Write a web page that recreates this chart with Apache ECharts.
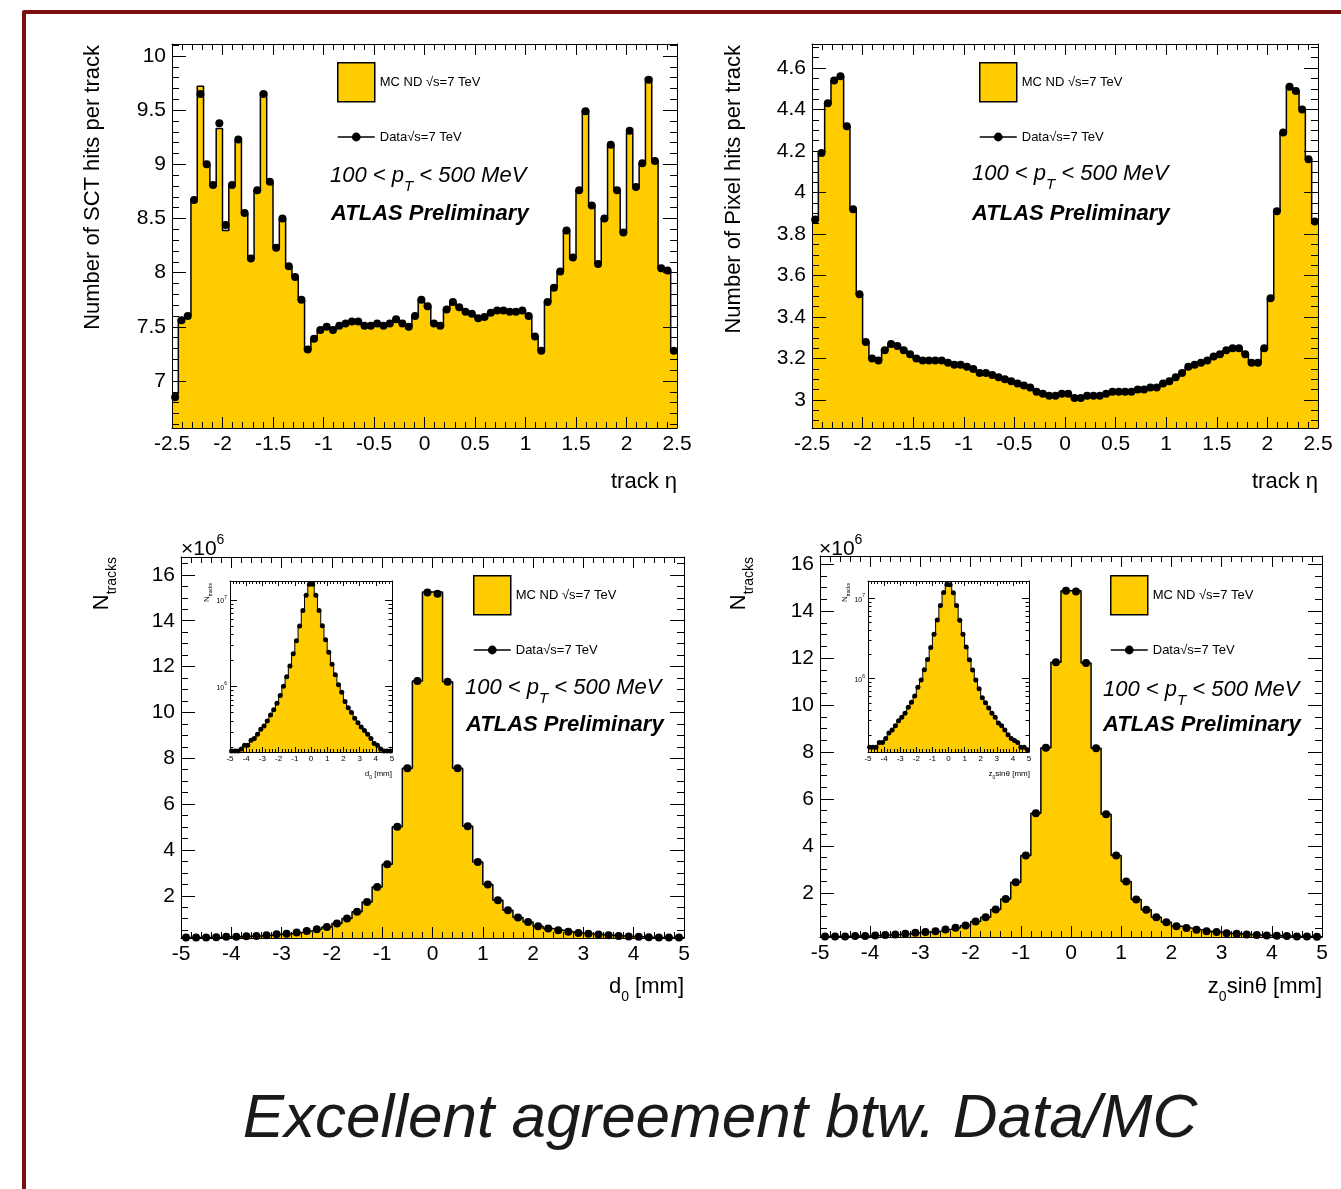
<!DOCTYPE html>
<html><head><meta charset="utf-8">
<script src="https://cdn.jsdelivr.net/npm/echarts@6/dist/echarts.min.js"></script>
<style>html,body{margin:0;padding:0;background:#fff}#c{width:1341px;height:1189px}</style>
</head><body><div id="c"></div>
<script>
// ---------------- data ----------------
const MC = 'MC ND \u221As=7 TeV';
const DATA = 'Data\u221As=7 TeV';

const etaRange = [-2.5, 2.5];   // 80 bins
const ipRange = [-5, 5];        // 50 bins

const sctData = [6.85,7.56,7.60,8.67,9.65,9.00,8.81,9.38,8.44,8.81,9.23,8.55,8.13,8.76,9.65,8.84,8.23,8.50,8.06,7.96,
  7.75,7.29,7.39,7.47,7.50,7.47,7.51,7.53,7.55,7.55,7.51,7.51,7.53,7.51,7.53,7.57,7.53,7.50,7.60,7.75,
  7.69,7.53,7.51,7.66,7.73,7.68,7.64,7.62,7.58,7.59,7.63,7.65,7.65,7.64,7.64,7.65,7.60,7.41,7.28,7.73,
  7.86,8.01,8.39,8.14,8.76,9.49,8.62,8.08,8.50,9.18,8.76,8.37,9.31,8.79,9.01,9.78,9.03,8.04,8.02,7.28];
const sctMC = [6.88,7.57,7.61,8.68,9.72,9.00,8.81,9.33,8.39,8.81,9.22,8.55,8.13,8.76,9.66,8.84,8.23,8.50,8.06,7.96,
  7.75,7.29,7.39,7.47,7.50,7.47,7.51,7.53,7.55,7.55,7.51,7.51,7.53,7.51,7.53,7.57,7.53,7.50,7.60,7.75,
  7.69,7.53,7.51,7.66,7.73,7.68,7.64,7.62,7.58,7.59,7.63,7.65,7.65,7.64,7.64,7.65,7.60,7.41,7.28,7.73,
  7.86,8.01,8.39,8.14,8.76,9.50,8.62,8.08,8.50,9.18,8.76,8.37,9.29,8.79,9.01,9.80,9.03,8.04,8.02,7.28];

const pixData = [3.87,4.19,4.43,4.54,4.56,4.32,3.92,3.51,3.28,3.20,3.19,3.24,3.27,3.26,3.24,3.22,3.20,3.19,3.19,3.19,
  3.19,3.18,3.17,3.17,3.16,3.15,3.13,3.13,3.12,3.11,3.10,3.09,3.08,3.07,3.06,3.04,3.03,3.02,3.02,3.03,
  3.03,3.01,3.01,3.02,3.02,3.02,3.03,3.04,3.04,3.04,3.04,3.05,3.05,3.06,3.06,3.08,3.09,3.11,3.13,3.16,
  3.17,3.18,3.19,3.21,3.22,3.24,3.25,3.25,3.22,3.18,3.18,3.25,3.49,3.91,4.29,4.51,4.49,4.40,4.16,3.86];
const pixMC = [3.87,4.19,4.43,4.54,4.56,4.32,3.92,3.51,3.28,3.20,3.19,3.24,3.27,3.26,3.24,3.22,3.20,3.19,3.19,3.19,
  3.19,3.18,3.17,3.17,3.16,3.15,3.13,3.13,3.12,3.11,3.10,3.09,3.08,3.07,3.06,3.04,3.03,3.02,3.02,3.03,
  3.03,3.01,3.01,3.02,3.02,3.02,3.03,3.04,3.04,3.04,3.04,3.05,3.05,3.06,3.06,3.08,3.09,3.11,3.13,3.16,
  3.17,3.18,3.19,3.21,3.22,3.24,3.25,3.25,3.22,3.18,3.18,3.25,3.49,3.91,4.29,4.51,4.49,4.40,4.16,3.86];

// tracks, in units of 10^6
const d0Data = [0.18,0.18,0.18,0.19,0.21,0.21,0.24,0.25,0.28,0.32,0.35,0.40,0.47,0.54,0.64,0.79,1.01,1.30,1.73,2.39,3.38,5.01,7.56,11.37,15.23,
  15.18,11.34,7.57,5.04,3.47,2.49,1.81,1.37,1.05,0.86,0.67,0.57,0.50,0.43,0.38,0.34,0.31,0.28,0.25,0.22,0.21,0.19,0.18,0.18,0.18];
const d0MC = [0.18,0.18,0.18,0.19,0.21,0.21,0.24,0.25,0.28,0.32,0.35,0.40,0.47,0.54,0.64,0.79,1.01,1.30,1.73,2.39,3.38,5.01,7.56,11.37,15.25,
  15.25,11.34,7.57,5.04,3.47,2.49,1.81,1.37,1.05,0.86,0.67,0.57,0.50,0.43,0.38,0.34,0.31,0.28,0.25,0.22,0.21,0.19,0.18,0.18,0.18];
const z0Data = [0.14,0.14,0.14,0.16,0.16,0.18,0.21,0.23,0.26,0.30,0.33,0.37,0.44,0.51,0.61,0.78,0.96,1.29,1.74,2.45,3.59,5.39,8.18,11.82,14.87,
  14.84,11.79,8.16,5.35,3.59,2.48,1.72,1.28,0.96,0.75,0.58,0.50,0.43,0.37,0.33,0.28,0.26,0.23,0.20,0.18,0.17,0.16,0.14,0.14,0.13];
const z0MC = [0.14,0.14,0.14,0.16,0.16,0.18,0.21,0.23,0.26,0.30,0.33,0.37,0.44,0.51,0.61,0.78,0.96,1.29,1.74,2.45,3.59,5.39,8.18,11.82,14.87,
  14.87,11.79,8.16,5.35,3.59,2.48,1.72,1.28,0.96,0.75,0.58,0.50,0.43,0.37,0.33,0.28,0.26,0.23,0.20,0.18,0.17,0.16,0.14,0.14,0.13];

// tick labels
const etaTicks = [-2.5,-2,-1.5,-1,-0.5,0,0.5,1,1.5,2,2.5];
const ipTicks = [-5,-4,-3,-2,-1,0,1,2,3,4,5];
const sctTicks = [7,7.5,8,8.5,9,9.5,10];
const pixTicks = [3,3.2,3.4,3.6,3.8,4,4.2,4.4,4.6];
const nTicks = [2,4,6,8,10,12,14,16];
const logTicks = [1e6,1e7];

// ---------------- helpers ----------------
const FONT = '"Liberation Sans", Arial, Helvetica, sans-serif';
function steps(a, b, s) {
  const out = [];
  const k0 = Math.ceil(a / s - 1e-9), k1 = Math.floor(b / s + 1e-9);
  for (let k = k0; k <= k1; k++) out.push(+(k * s).toFixed(6));
  return out;
}
function logMinors(a, b) {
  const out = [];
  for (let e = Math.floor(Math.log10(a)); e <= Math.ceil(Math.log10(b)); e++)
    for (let m = 1; m <= 9; m++) { const v = m * Math.pow(10, e); if (v >= a && v <= b) out.push(v); }
  return out;
}
function histLine(range, vals, scale) {
  const n = vals.length, w = (range[1] - range[0]) / n, k = scale || 1;
  const pts = vals.map((v, i) => [range[0] + i * w, v * k]);
  pts.push([range[1], vals[n - 1] * k]);
  return pts;
}
function binCenters(range, vals, scale) {
  const n = vals.length, w = (range[1] - range[0]) / n, k = scale || 1;
  return vals.map((v, i) => [range[0] + (i + 0.5) * w, v * k]);
}

const grids = [], xAxes = [], yAxes = [], series = [], legends = [], graphics = [];

function makeAxis(g, pos, s, major, labels) {
  return {
    gridIndex: g, type: s.type || 'value', position: pos, min: s.min, max: s.max, z: 10,
    axisLine: { show: major, onZero: false, lineStyle: { color: '#000', width: 1 } },
    axisTick: { show: true, inside: true, length: major ? s.majLen : s.minLen,
      customValues: major ? s.major : s.minor, lineStyle: { color: '#000', width: 1 } },
    axisLabel: labels ? Object.assign({ show: true, customValues: s.major, color: '#000', fontFamily: FONT }, s.label)
                      : { show: false },
    splitLine: { show: false }, minorTick: { show: false }, axisPointer: { show: false }
  };
}
function addFrame(g, sx, sy) {
  const xi = xAxes.length, yi = yAxes.length;
  xAxes.push(makeAxis(g, 'bottom', sx, true, true), makeAxis(g, 'bottom', sx, false, false),
             makeAxis(g, 'top', sx, true, false), makeAxis(g, 'top', sx, false, false));
  yAxes.push(makeAxis(g, 'left', sy, true, true), makeAxis(g, 'left', sy, false, false),
             makeAxis(g, 'right', sy, true, false), makeAxis(g, 'right', sy, false, false));
  return { xi, yi };
}
function addHist(ix, range, mc, data, scale, lw, sym) {
  series.push({ type: 'line', name: MC, xAxisIndex: ix.xi, yAxisIndex: ix.yi, data: histLine(range, mc, scale),
    step: 'end', symbol: 'none', silent: true, z: 2,
    lineStyle: { color: '#000', width: lw }, itemStyle: { color: '#ffcc00' },
    areaStyle: { color: '#ffcc00', opacity: 1, origin: 'start' } });
  series.push({ type: 'line', name: DATA, xAxisIndex: ix.xi, yAxisIndex: ix.yi, data: binCenters(range, data, scale),
    symbol: 'circle', symbolSize: sym, showSymbol: true, silent: true, z: 3,
    lineStyle: { opacity: 0, width: 1 }, itemStyle: { color: '#000' } });
}
function addLegend(left, top) {
  legends.push({ left, top, padding: 0, orient: 'vertical', selectedMode: false,
    itemWidth: 37, itemHeight: 39, data: [{ name: MC, icon: 'rect' }],
    itemStyle: { color: '#ffcc00', borderColor: '#000', borderWidth: 1.5, opacity: 1 },
    textStyle: { fontSize: 13, fontFamily: FONT, color: '#000' } });
  legends.push({ left, top: top + 68.5, padding: 0, orient: 'vertical', selectedMode: false,
    itemWidth: 37, itemHeight: 11, data: [{ name: DATA }],
    itemStyle: { color: '#000', opacity: 1, borderWidth: 0 },
    lineStyle: { color: '#000', width: 1.5, opacity: 1 },
    textStyle: { fontSize: 13, fontFamily: FONT, color: '#000' } });
}
function text(x, y, str, style, rot) {
  const st = Object.assign({ text: str, fontFamily: FONT, fill: '#000' }, style);
  if (st.align) st.textAlign = st.align;
  if (st.verticalAlign) st.textVerticalAlign = st.verticalAlign;
  graphics.push({ type: 'text', x, y, rotation: rot || 0, z: 20, silent: true, style: st });
}
function ptText(left, top) {
  text(left, top, '{a|100 < p}{s|T}{a| < 500 MeV}', { align: 'left', verticalAlign: 'top',
    rich: { a: { fontSize: 22, fontStyle: 'italic', fontFamily: FONT, lineHeight: 24, verticalAlign: 'top' },
            s: { fontSize: 15, fontStyle: 'italic', fontFamily: FONT, lineHeight: 15, padding: [14, 0, 0, 0], verticalAlign: 'top' } } });
}
function atlas(left, cy) {
  text(left, cy, 'ATLAS Preliminary', { fontSize: 22, fontStyle: 'italic', fontWeight: 'bold', align: 'left', verticalAlign: 'middle' });
}
function subText(right, top, a, s, b, big, small, rot) {
  text(right, top, '{a|' + a + '}{s|' + s + '}{a|' + b + '}', { align: 'right', verticalAlign: 'top',
    rich: { a: { fontSize: big, fontFamily: FONT, lineHeight: big + 2, verticalAlign: 'top' },
            s: { fontSize: small, fontFamily: FONT, lineHeight: small, padding: [Math.round(big * 0.62), 0, 0, 0], verticalAlign: 'top' } } }, rot);
}
function supText(left, top, a, s, big, small) {
  text(left, top, '{a|' + a + '}{s|' + s + '}', { align: 'left', verticalAlign: 'top',
    rich: { a: { fontSize: big, fontFamily: FONT, lineHeight: big, padding: [Math.round(big * 0.3), 0, 0, 0], verticalAlign: 'top' },
            s: { fontSize: small, fontFamily: FONT, lineHeight: small, verticalAlign: 'top' } } });
}

const mainLabel = { fontSize: 21, margin: 6 };
const insetLabel = { fontSize: 8, margin: 3 };

// ---------- panel 1 : SCT hits ----------
grids.push({ left: 172, top: 44, width: 505, height: 384, outerBoundsMode: 'none' });
let ix = addFrame(0,
  { min: etaRange[0], max: etaRange[1], major: etaTicks, minor: steps(-2.5, 2.5, 0.1), majLen: 11, minLen: 6, label: mainLabel },
  { min: 6.566, max: 10.111, major: sctTicks, minor: steps(6.566, 10.111, 0.1), majLen: 14, minLen: 7, label: mainLabel });
addHist(ix, etaRange, sctMC, sctData, 1, 1.5, 8);
addLegend(337, 62);
ptText(330, 165); atlas(331, 214);
text(677, 482, 'track \u03B7', { fontSize: 22, align: 'right', verticalAlign: 'middle' });
text(93, 45, 'Number of SCT hits per track', { fontSize: 22, align: 'right', verticalAlign: 'middle' }, Math.PI / 2);

// ---------- panel 2 : Pixel hits ----------
grids.push({ left: 812, top: 44, width: 506, height: 384, outerBoundsMode: 'none' });
ix = addFrame(1,
  { min: etaRange[0], max: etaRange[1], major: etaTicks, minor: steps(-2.5, 2.5, 0.1), majLen: 11, minLen: 6, label: mainLabel },
  { min: 2.865, max: 4.716, major: pixTicks, minor: steps(2.865, 4.716, 0.05), majLen: 14, minLen: 7, label: mainLabel });
addHist(ix, etaRange, pixMC, pixData, 1, 1.5, 8);
addLegend(979, 62);
ptText(972, 163); atlas(972, 214);
text(1318, 482, 'track \u03B7', { fontSize: 22, align: 'right', verticalAlign: 'middle' });
text(734, 45, 'Number of Pixel hits per track', { fontSize: 22, align: 'right', verticalAlign: 'middle' }, Math.PI / 2);

// ---------- panel 3 : d0 ----------
grids.push({ left: 181, top: 557, width: 503, height: 381, outerBoundsMode: 'none' });
ix = addFrame(2,
  { min: ipRange[0], max: ipRange[1], major: ipTicks, minor: steps(-5, 5, 0.2), majLen: 11, minLen: 6, label: mainLabel },
  { min: 0.16, max: 16.78, major: nTicks, minor: steps(0.16, 16.78, 0.5), majLen: 14, minLen: 7, label: mainLabel });
addHist(ix, ipRange, d0MC, d0Data, 1, 1.5, 8);
addLegend(473, 575);
ptText(465, 677); atlas(466, 725);
subText(684, 976, 'd', '0', ' [mm]', 22, 14);
subText(91, 557, 'N', 'tracks', '', 22, 14, Math.PI / 2);
supText(181, 533, '\u00D710', '6', 21, 14);

// ---------- panel 4 : z0 sin theta ----------
grids.push({ left: 820, top: 556, width: 502, height: 381, outerBoundsMode: 'none' });
ix = addFrame(3,
  { min: ipRange[0], max: ipRange[1], major: ipTicks, minor: steps(-5, 5, 0.2), majLen: 11, minLen: 6, label: mainLabel },
  { min: 0.12, max: 16.35, major: nTicks, minor: steps(0.12, 16.35, 0.5), majLen: 14, minLen: 7, label: mainLabel });
addHist(ix, ipRange, z0MC, z0Data, 1, 1.5, 8);
addLegend(1110, 575);
ptText(1103, 679); atlas(1103, 725);
subText(1322, 976, 'z', '0', 'sin\u03B8 [mm]', 22, 14);
subText(728, 557, 'N', 'tracks', '', 22, 14, Math.PI / 2);
supText(819, 533, '\u00D710', '6', 21, 14);

// ---------- insets (log scale) ----------
const logFmt = v => '{b|10}{s|' + Math.round(Math.log10(v)) + '}';
const logLabel = { fontSize: 7, margin: 3, formatter: logFmt,
  rich: { b: { fontSize: 7, fontFamily: FONT, padding: [3, 0, 0, 0] }, s: { fontSize: 5, fontFamily: FONT, verticalAlign: 'top' } } };

grids.push({ left: 230, top: 581, width: 162, height: 171, show: true, backgroundColor: '#fff', borderWidth: 0, outerBoundsMode: 'none' });
ix = addFrame(4,
  { min: ipRange[0], max: ipRange[1], major: ipTicks, minor: steps(-5, 5, 0.2), majLen: 5, minLen: 3, label: insetLabel },
  { type: 'log', min: 1.75e5, max: 1.66e7, major: logTicks, minor: logMinors(1.75e5, 1.66e7), majLen: 7, minLen: 3.5, label: logLabel });
addHist(ix, ipRange, d0MC, d0Data, 1e6, 1, 5);
subText(392, 770, 'd', '0', ' [mm]', 8, 5);
subText(203, 583, 'N', 'tracks', '', 8, 5, Math.PI / 2);

grids.push({ left: 868, top: 581, width: 161, height: 171, show: true, backgroundColor: '#fff', borderWidth: 0, outerBoundsMode: 'none' });
ix = addFrame(5,
  { min: ipRange[0], max: ipRange[1], major: ipTicks, minor: steps(-5, 5, 0.2), majLen: 5, minLen: 3, label: insetLabel },
  { type: 'log', min: 1.22e5, max: 1.65e7, major: logTicks, minor: logMinors(1.22e5, 1.65e7), majLen: 7, minLen: 3.5, label: logLabel });
addHist(ix, ipRange, z0MC, z0Data, 1e6, 1, 5);
subText(1030, 770, 'z', '0', 'sin\u03B8 [mm]', 8, 5);
subText(841, 583, 'N', 'tracks', '', 8, 5, Math.PI / 2);

// ---------- caption & frame ----------
text(720, 1120, 'Excellent agreement btw. Data/MC', { fontSize: 62, fontStyle: 'italic', fill: '#1a1a1a', align: 'center', verticalAlign: 'middle' });
graphics.push({ type: 'polyline', z: 20, silent: true, shape: { points: [[24, 1189], [24, 12], [1341, 12]] },
  style: { stroke: '#7a1010', lineWidth: 4, fill: null, lineJoin: 'round' } });

const chart = echarts.init(document.getElementById('c'), null, { renderer: 'canvas' });
chart.setOption({
  animation: false, backgroundColor: '#fff', textStyle: { fontFamily: FONT },
  grid: grids, xAxis: xAxes, yAxis: yAxes, series, legend: legends, graphic: graphics
});
</script>
</body></html>
